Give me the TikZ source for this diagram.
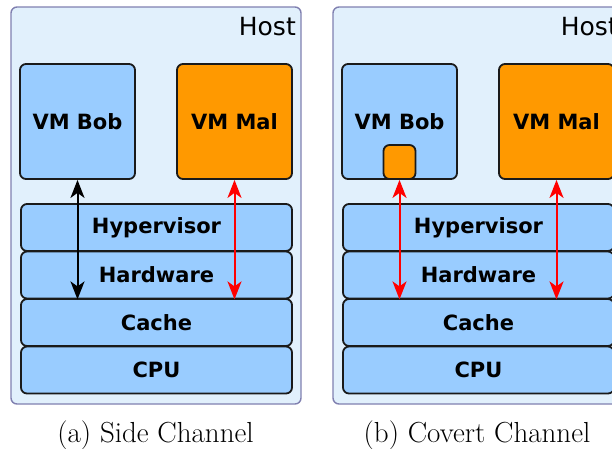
\documentclass[tikz,border=0pt]{standalone}
\usepackage{fontspec}
\setsansfont{DejaVu Sans}
\usepackage{xcolor}
\usepackage{tikz}
\usetikzlibrary{arrows.meta,positioning}

\definecolor{hostfill}{HTML}{E1F0FC}
\definecolor{hostline}{HTML}{8080B0}
\definecolor{layerfill}{HTML}{99CCFF}
\definecolor{malfill}{HTML}{FF9900}
\definecolor{boxline}{HTML}{1A1A1A}
\definecolor{leakred}{HTML}{FF0000}

\begin{document}
\begin{tikzpicture}[
        x=1pt, y=-1pt,
        host/.style={draw=hostline, fill=hostfill, line width=1.4pt, rounded corners=6pt,
            minimum width=290pt, minimum height=397pt, inner sep=0pt},
        hostlabel/.style={font=\sffamily\fontsize{25}{30}\selectfont, inner sep=0pt, anchor=base east},
        box/.style={draw=boxline, line width=1.8pt, rounded corners=6pt, inner sep=0pt,
            font=\sffamily\bfseries\fontsize{21}{25}\selectfont},
        vm/.style={box, fill=layerfill, minimum width=115pt, minimum height=115pt},
        malvm/.style={vm, fill=malfill},
        layer/.style={box, fill=layerfill, minimum width=271pt, minimum height=47pt},
        spy/.style={box, fill=malfill, minimum width=32pt, minimum height=34pt},
        biarr/.style={{Stealth[length=18pt,width=14pt,inset=5pt]}-{Stealth[length=18pt,width=14pt,inset=5pt]},
            line width=2pt},
        caption/.style={font=\fontsize{29}{34}\selectfont, inner sep=0pt, anchor=base}
    ]
        \useasboundingbox (0,0) rectangle (612,448);
        \clip (0,0) rectangle (612,448);

        % (a) side channel
        \node[host] (hostA) at (156, 205.5) {};
        \node[hostlabel] (hostlabelA) at (296, 35) {Host};
        \node[vm] (bobA) at (77.5, 121.5) {VM Bob};
        \node[malvm] (malA) at (234.5, 121.5) {VM Mal};
        \node[layer] (hypA) at (156.5, 227.5) {Hypervisor};
        \node[layer] (hwA) at (156.5, 275) {Hardware};
        \node[layer] (cacheA) at (156.5, 322.5) {Cache};
        \node[layer] (cpuA) at (156.5, 370) {CPU};
        \draw[biarr, draw=black] (bobA.south) -- (bobA.south |- hwA.south);
        \draw[biarr, draw=leakred] (malA.south) -- (malA.south |- hwA.south);
        \node[caption] (capA) at (155.5, 442) {(a) Side Channel};

        % (b) covert channel
        \node[host] (hostB) at (478, 205.5) {};
        \node[hostlabel] (hostlabelB) at (618, 35) {Host};
        \node[vm] (bobB) at (399.5, 121.5) {VM Bob};
        \node[spy, anchor=south] (spyB) at (bobB.south) {};
        \node[malvm] (malB) at (556.5, 121.5) {VM Mal};
        \node[layer] (hypB) at (478.5, 227.5) {Hypervisor};
        \node[layer] (hwB) at (478.5, 275) {Hardware};
        \node[layer] (cacheB) at (478.5, 322.5) {Cache};
        \node[layer] (cpuB) at (478.5, 370) {CPU};
        \draw[biarr, draw=leakred] (spyB.south) -- (spyB.south |- hwB.south);
        \draw[biarr, draw=leakred] (malB.south) -- (malB.south |- hwB.south);
        \node[caption] (capB) at (477, 442) {(b) Covert Channel};
    \end{tikzpicture}
\end{document}
